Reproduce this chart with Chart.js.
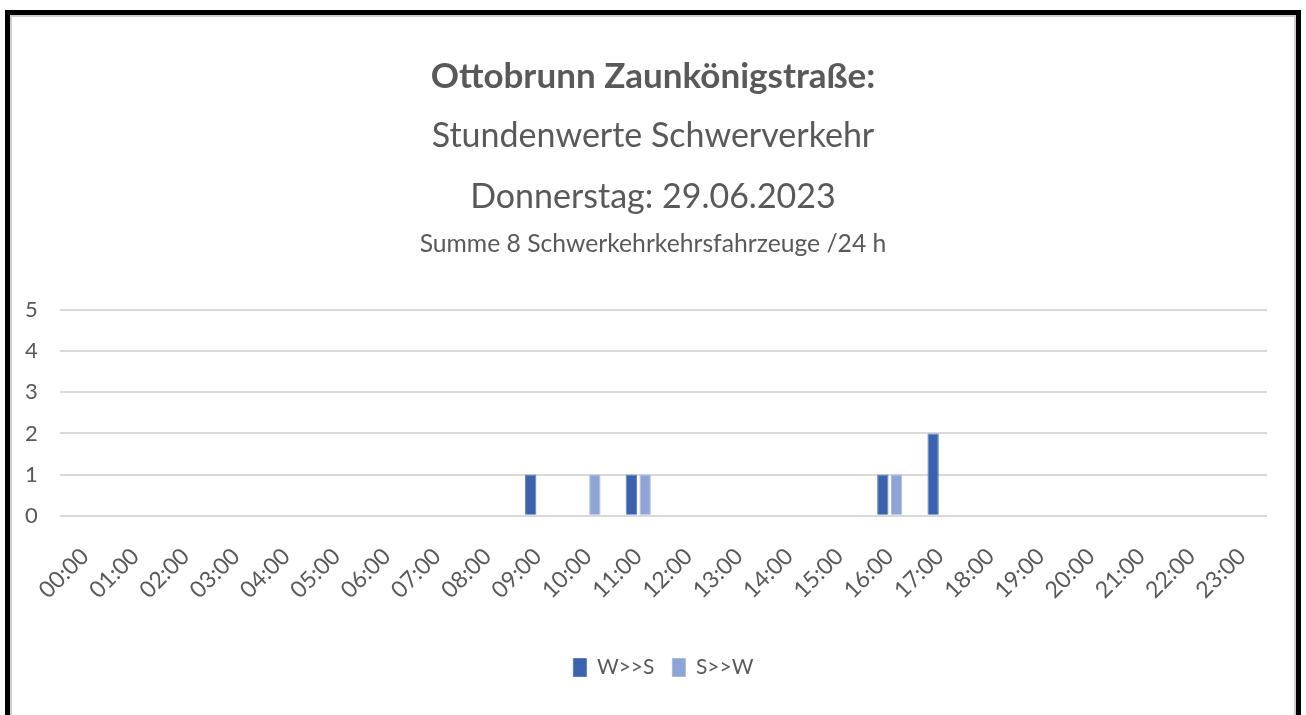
<!DOCTYPE html>
<html>
<head>
<meta charset="utf-8">
<script src="https://cdn.jsdelivr.net/npm/chart.js@4"></script>
<style>
  html, body { margin: 0; padding: 0; background: #fff; width: 1306px; height: 715px; overflow: hidden; }
  #frame { position: absolute; left: 5px; top: 10px; width: 1286px; height: 720px;
           border: 5px solid #000; border-bottom: none; box-shadow: inset 2px 2px 0 #cfcfcf, inset -2px 0 0 #cfcfcf; pointer-events: none; }
  .t { position: absolute; left: 0; width: 1306px; text-align: center; color: #595959; font-family: Lato, "Open Sans", sans-serif; line-height: 1; white-space: nowrap; }
  #t1 { top: 57px; font-size: 35px; font-weight: bold; }
  #t2 { top: 117px; font-size: 34px; }
  #t3 { top: 178px; font-size: 34px; }
  #t4 { top: 231px; font-size: 24.7px; }
  #c { position: absolute; left: 0; top: 0; }
</style>
</head>
<body>
<canvas id="c" width="1306" height="715"></canvas>
<div class="t" id="t1">Ottobrunn Zaunkönigstraße:</div>
<div class="t" id="t2">Stundenwerte Schwerverkehr</div>
<div class="t" id="t3">Donnerstag: 29.06.2023</div>
<div class="t" id="t4">Summe 8 Schwerkehrkehrsfahrzeuge /24 h</div>
<div id="frame"></div>
<script>
const hours = ["00:00","01:00","02:00","03:00","04:00","05:00","06:00","07:00","08:00","09:00","10:00","11:00",
               "12:00","13:00","14:00","15:00","16:00","17:00","18:00","19:00","20:00","21:00","22:00","23:00"];
const seriesNames = ["W>>S", "S>>W"];
const wToS = [0,0,0,0,0,0,0,0,0,1,0,1,0,0,0,0,1,2,0,0,0,0,0,0];
const sToW = [0,0,0,0,0,0,0,0,0,0,1,1,0,0,0,0,1,0,0,0,0,0,0,0];
const yTicks = [0,1,2,3,4,5];

const textColor = '#595959';
new Chart(document.getElementById('c'), {
  type: 'bar',
  data: {
    labels: hours,
    datasets: [
      { label: seriesNames[0], data: wToS, backgroundColor: '#3b62ad', borderColor: '#5c7dbd', borderWidth: 1,
        categoryPercentage: 0.55, barPercentage: 0.82 },
      { label: seriesNames[1], data: sToW, backgroundColor: '#8fa4d6', borderColor: '#a9bae0', borderWidth: 1,
        categoryPercentage: 0.55, barPercentage: 0.82 }
    ]
  },
  options: {
    responsive: false,
    animation: false,
    layout: { autoPadding: false, padding: { top: 310, left: 3, right: 39, bottom: 27 } },
    scales: {
      x: {
        grid: { display: false, drawTicks: false },
        border: { display: false },
        ticks: { color: textColor, font: { family: 'Lato', size: 23 }, minRotation: 45, maxRotation: 45, padding: 27, autoSkip: false },
        afterFit: (s) => { s.paddingLeft = 0; s.paddingRight = 0; s.height += 8; }
      },
      y: {
        min: 0, max: 5,
        afterBuildTicks: (axis) => { axis.ticks = yTicks.map(v => ({ value: v })); },
        grid: { color: '#d9d9d9', lineWidth: 2, drawTicks: false },
        border: { display: false },
        ticks: { color: textColor, font: { family: 'Lato', size: 22 }, padding: 22 }
      }
    },
    plugins: {
      legend: {
        position: 'bottom',
        fullSize: false,
        labels: { color: textColor, font: { family: 'Lato', size: 21 }, boxWidth: 13, boxHeight: 18, padding: 18 }
      },
      tooltip: { enabled: false }
    }
  }
});
</script>
</body>
</html>
